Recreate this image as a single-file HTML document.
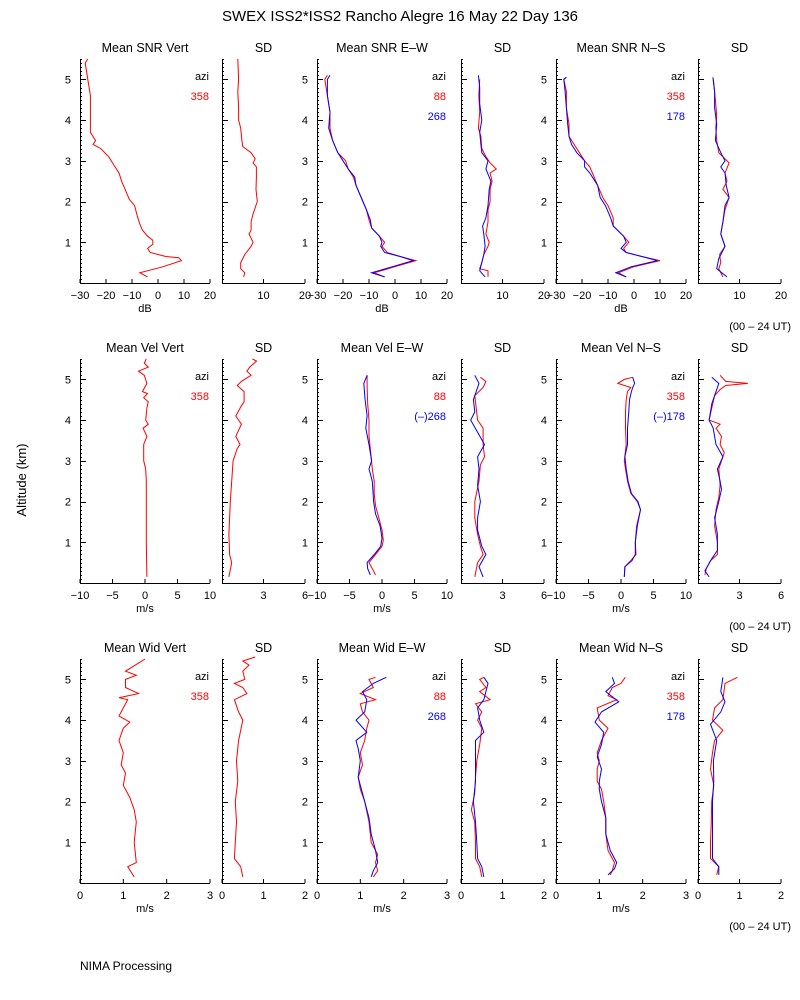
<!DOCTYPE html>
<html><head><meta charset="utf-8">
<style>
body{margin:0;background:#fff;}
svg{display:block;font-family:"Liberation Sans",sans-serif;}
</style></head>
<body>
<svg id="chart" width="800" height="1000" viewBox="0 0 800 1000">
<rect width="800" height="1000" fill="#fff"/>
<text x="400" y="21" text-anchor="middle" font-size="15">SWEX ISS2*ISS2 Rancho Alegre  16 May 22 Day 136</text>
<text x="26" y="480" text-anchor="middle" font-size="13" transform="rotate(-90 26 480)">Altitude (km)</text>
<text x="80" y="970" font-size="12">NIMA Processing</text>
<text x="791" y="330" text-anchor="end" font-size="11">(00 – 24 UT)</text>
<text x="791" y="630" text-anchor="end" font-size="11">(00 – 24 UT)</text>
<text x="791" y="930" text-anchor="end" font-size="11">(00 – 24 UT)</text>
<g id="plots"></g>
</svg>
<script>
// ---- Row 1: SNR ----
const snrVertAlt = [0.15,0.25,0.4,0.55,0.62,0.65,0.75,0.85,0.95,1.05,1.15,1.3,1.45,1.65,1.9,2.05,2.2,2.5,2.7,2.9,3.1,3.3,3.4,3.5,3.7,4.0,4.3,4.6,5.0,5.4,5.5];
const snrVert = [-4,-7,2,9,8,3,-3,-4,-2,-2,-4,-6,-7,-8,-9,-11,-12,-14,-15,-17,-19,-22,-25,-24,-26,-26,-26,-26,-27,-28,-27];
const snrVertSdAlt = [0.15,0.25,0.35,0.5,0.7,0.9,1.0,1.1,1.2,1.3,1.5,1.7,2.0,2.3,2.6,2.85,2.95,3.05,3.2,3.35,3.5,3.8,4.0,4.3,4.7,5.0,5.5];
const snrVertSd = [5.2,5.5,4.5,4.5,5.5,7,7.5,7,6.5,7,7,7.5,8.5,8.2,8.3,8.3,7.5,8,7,5,4.8,4.5,4,4,3.8,4,3.8];
const snrEwAlt = [0.15,0.25,0.4,0.55,0.65,0.75,0.9,1.0,1.15,1.35,1.55,1.8,2.1,2.4,2.6,2.8,3.0,3.2,3.5,3.8,4.2,4.6,5.0,5.1];
const snrEwRed = [-4,-8,0,8,2,-3,-5,-4,-6,-9,-10,-11,-13,-15,-16,-18,-19,-22,-24,-25,-25,-26,-27,-26];
const snrEwBlue = [-4,-9,-1,7,2,-4,-5.5,-5,-6,-9,-9.5,-11,-13,-15,-15.5,-18,-20,-22,-24,-25.5,-25,-26,-26,-25];
const snrEwSdRedAlt = [0.15,0.3,0.35,0.5,0.7,0.9,1.0,1.2,1.5,1.8,2.0,2.3,2.5,2.7,2.8,2.95,3.1,3.3,3.6,3.8,4.2,4.6,5.0];
const snrEwSdRed = [6.5,6.5,4.5,5,5.5,6.5,6.8,6,6.5,6.5,7,7,7.5,7,8.5,7,6,5,4.8,4.2,4.5,4.3,4.5];
const snrEwSdBlueAlt = [0.15,0.3,0.5,0.7,0.9,1.2,1.4,1.6,1.9,2.3,2.5,2.8,3.0,3.2,3.4,3.7,4.0,4.4,4.8,5.1];
const snrEwSdBlue = [5.8,4.5,5,5.5,5.8,5.5,5.2,6,6.5,6.8,7.2,6,6.5,5,4.8,4.5,5,4.5,4.5,4.2];
const snrNsAlt = [0.15,0.25,0.4,0.55,0.65,0.75,0.85,1.0,1.15,1.4,1.6,1.9,2.1,2.4,2.7,2.85,3.0,3.2,3.4,3.6,3.9,4.3,4.7,5.0,5.05];
const snrNsRed = [-3,-6,0,10,3,-3,-4,-2,-4,-8,-8,-10,-12,-14,-16,-17,-19,-21,-23,-25,-25,-26,-26,-27,-26];
const snrNsBlue = [-3,-7,-1,9,3,-3,-5,-3,-4,-8,-9,-11,-13,-14,-17,-19,-19,-22,-24,-25,-25.5,-26,-26.5,-27,-26];
const snrNsSdRedAlt = [0.15,0.35,0.5,0.7,0.9,1.2,1.5,1.8,2.1,2.3,2.5,2.7,2.95,3.2,3.5,3.8,4.1,4.5,5.0];
const snrNsSdRed = [6,5,5.5,5.2,6.5,5.5,6,6.5,7.5,6,7,6.5,7.5,5,4.5,4.3,4.5,4.2,3.7];
const snrNsSdBlueAlt = [0.15,0.35,0.6,0.9,1.2,1.5,1.9,2.1,2.4,2.7,2.85,3.0,3.2,3.5,3.9,4.3,4.7,5.05];
const snrNsSdBlue = [7,4.5,5,6.5,5.5,6,6.5,7.5,6.8,6.5,5.5,6.5,5.5,4.2,4.5,4,4,3.6];
// ---- Row 2: Velocity ----
const velVertAlt = [0.15,1.0,1.5,2.5,2.8,3.0,3.4,3.6,3.8,3.9,4.0,4.3,4.45,4.55,4.65,4.7,4.9,5.1,5.2,5.3,5.4,5.5];
const velVert = [0.3,0.2,0.2,0.2,0.1,-0.2,-0.2,0.3,-0.3,0.5,0.1,0.3,0.5,-0.2,0.4,-0.4,0.3,-0.1,-1.0,0.5,-0.1,0.2];
const velVertSdAlt = [0.15,0.5,0.7,1.2,2.0,3.0,3.3,3.4,3.6,3.9,4.1,4.35,4.45,4.7,4.85,4.95,5.1,5.2,5.3,5.45,5.5];
const velVertSd = [0.5,0.7,0.55,0.5,0.6,0.8,1.1,1.3,1.0,1.4,1.0,1.4,1.6,1.6,1.1,1.4,2.1,1.8,2.0,2.5,2.2];
const velEwRedAlt = [0.2,0.35,0.5,0.7,0.9,1.05,1.3,1.6,1.9,2.2,2.5,2.8,3.3,3.6,4.0,4.4,4.8,5.1];
const velEwRed = [-1.0,-1.5,-2,-1,0,0.2,0,-0.5,-1,-1.2,-1.2,-1.5,-1.8,-2,-2,-2.2,-2.3,-2.3];
const velEwBlueAlt = [0.2,0.35,0.5,0.7,0.9,1.1,1.4,1.7,2.0,2.5,2.8,3.0,3.4,3.8,4.1,4.5,4.9,5.1];
const velEwBlue = [-1.8,-2.2,-2.3,-1.2,-0.2,0,-0.3,-1,-1.3,-1.5,-2,-1.6,-2,-2.5,-2.3,-2.6,-2.8,-2.3];
const velEwSdRedAlt = [0.15,0.5,0.7,0.9,1.2,1.6,2.0,2.5,2.9,3.1,3.4,3.8,4.0,4.3,4.6,4.8,4.95,5.05];
const velEwSdRed = [1.0,1.2,1.6,1.4,1.2,1.0,1.0,1.3,1.4,1.7,1.6,1.6,1.2,1.1,1.0,1.6,1.8,1.4];
const velEwSdBlueAlt = [0.15,0.4,0.7,0.9,1.3,1.6,2.0,2.4,2.8,3.1,3.4,3.7,4.0,4.2,4.5,4.7,4.9,5.1];
const velEwSdBlue = [1.6,1.3,1.8,1.5,1.2,1.2,1.4,1.2,1.3,1.2,1.7,1.2,0.7,1.0,0.9,1.1,1.3,1.0];
const velNsRedAlt = [0.15,0.4,0.55,0.7,1.0,1.4,1.8,2.0,2.2,2.5,2.8,3.0,3.4,3.8,4.2,4.5,4.7,4.8,4.9,5.0,5.05];
const velNsRed = [0.5,0.6,1.5,2.3,2.2,2.4,3.0,2.5,1.5,1.0,0.7,0.5,0.8,0.7,0.7,0.8,1.0,1.5,-0.5,0.5,1.8];
const velNsBlueAlt = [0.15,0.4,0.55,0.7,1.0,1.4,1.8,2.0,2.2,2.5,2.8,3.1,3.4,3.8,4.2,4.5,4.7,4.8,4.9,5.05];
const velNsBlue = [0.5,0.6,1.7,2.2,2.2,2.5,3.0,2.6,1.6,1.1,0.8,0.6,1.0,1.0,1.2,1.3,1.6,1.8,2.1,1.8];
const velNsSdRedAlt = [0.2,0.35,0.55,0.7,1.0,1.4,1.8,2.1,2.4,2.8,3.0,3.2,3.4,3.6,3.8,3.9,4.0,4.3,4.6,4.75,4.85,4.9,4.95,5.1];
const velNsSdRed = [0.5,0.6,0.9,1.4,1.4,1.2,1.3,1.5,1.6,1.5,1.7,1.9,1.6,1.7,1.3,1.6,0.8,1.0,1.2,1.6,2.0,3.6,2.0,1.6];
const velNsSdBlueAlt = [0.15,0.3,0.6,0.8,1.2,1.6,2.0,2.3,2.5,2.8,3.1,3.4,3.8,4.0,4.4,4.7,4.9,5.05];
const velNsSdBlue = [0.8,0.5,1.0,1.4,1.4,1.2,1.5,1.7,1.6,1.4,1.8,1.3,1.1,0.8,1.0,1.3,1.5,1.0];
// ---- Row 3: Width ----
const widVertAlt = [0.15,0.4,0.5,1.0,1.5,1.8,2.1,2.4,2.7,2.9,3.2,3.5,3.8,3.95,4.1,4.3,4.5,4.55,4.65,4.8,5.0,5.1,5.2,5.4,5.5];
const widVert = [1.25,1.1,1.3,1.25,1.3,1.25,1.15,1.0,1.05,0.95,1.0,0.9,1.0,1.15,0.9,1.0,1.1,0.9,1.35,1.05,1.05,1.3,1.05,1.35,1.5];
const widVertSdAlt = [0.15,0.4,0.6,1.0,1.5,2.0,2.5,3.0,3.5,4.0,4.2,4.5,4.65,4.8,4.9,5.0,5.2,5.35,5.45,5.55];
const widVertSd = [0.5,0.45,0.3,0.32,0.35,0.32,0.38,0.35,0.4,0.5,0.4,0.3,0.6,0.5,0.3,0.55,0.5,0.65,0.5,0.8];
const widEwRedAlt = [0.15,0.3,0.5,0.7,1.0,1.5,2.0,2.3,2.6,2.9,3.2,3.5,3.8,4.0,4.2,4.4,4.5,4.65,4.8,5.0,5.05];
const widEwRed = [1.3,1.4,1.35,1.4,1.25,1.2,1.1,1.0,0.95,1.05,1.0,1.1,1.15,1.2,1.05,1.0,1.35,1.0,1.3,1.2,1.35];
const widEwBlueAlt = [0.15,0.3,0.5,0.8,1.2,1.6,2.0,2.4,2.6,3.0,3.3,3.5,3.7,4.0,4.2,4.5,4.7,4.9,5.05];
const widEwBlue = [1.25,1.3,1.4,1.35,1.25,1.2,1.1,1.0,0.95,1.0,0.95,0.9,1.15,0.9,1.1,1.15,1.05,1.3,1.6];
const widEwSdRedAlt = [0.15,0.4,0.6,1.0,1.5,1.8,2.2,2.6,3.0,3.4,3.8,4.0,4.2,4.4,4.5,4.7,4.8,5.0,5.05];
const widEwSdRed = [0.5,0.45,0.35,0.35,0.33,0.25,0.33,0.35,0.38,0.45,0.5,0.4,0.5,0.35,0.7,0.45,0.6,0.45,0.55];
const widEwSdBlueAlt = [0.15,0.4,0.6,1.0,1.5,2.0,2.5,3.0,3.5,3.7,4.0,4.3,4.5,4.7,4.9,5.05];
const widEwSdBlue = [0.55,0.5,0.4,0.38,0.35,0.3,0.35,0.35,0.35,0.55,0.45,0.4,0.55,0.6,0.65,0.55];
const widNsRedAlt = [0.2,0.3,0.5,0.8,1.2,1.6,2.0,2.3,2.5,2.8,3.0,3.2,3.5,3.8,4.0,4.3,4.5,4.6,4.8,4.9,5.05];
const widNsRed = [1.25,1.3,1.35,1.2,1.15,1.15,1.1,1.05,0.95,0.95,1.0,0.95,1.05,1.2,1.0,0.95,1.4,1.2,1.3,1.5,1.6];
const widNsBlueAlt = [0.2,0.35,0.5,0.8,1.2,1.6,2.0,2.3,2.5,2.8,3.1,3.4,3.7,3.95,4.2,4.45,4.7,4.9,5.05];
const widNsBlue = [1.2,1.35,1.4,1.25,1.15,1.15,1.05,1.0,1.0,1.05,0.95,1.05,1.1,0.9,1.05,1.45,1.15,1.35,1.3];
const widNsSdRedAlt = [0.2,0.4,0.6,1.0,1.5,2.0,2.4,2.8,3.2,3.5,3.75,4.0,4.3,4.5,4.9,5.05];
const widNsSdRed = [0.45,0.5,0.3,0.3,0.32,0.33,0.38,0.3,0.35,0.4,0.6,0.35,0.4,0.6,0.65,0.95];
const widNsSdBlueAlt = [0.2,0.4,0.6,1.0,1.5,2.0,2.5,3.0,3.5,3.9,4.2,4.45,4.7,5.05];
const widNsSdBlue = [0.5,0.5,0.35,0.35,0.35,0.35,0.38,0.37,0.45,0.3,0.55,0.65,0.55,0.6];

const meanTicks1 = [-30,-20,-10,0,10,20];
const sdTicks1 = [10,20];
const meanTicks2 = [-10,-5,0,5,10];
const sdTicks2 = [3,6];
const meanTicks3 = [0,1,2,3];
const sdTicks3 = [0,1,2];
const altTicks = [1,2,3,4,5];

const NS='http://www.w3.org/2000/svg';
const root=document.getElementById('plots');
function mk(tag,attrs,parent,text){const e=document.createElementNS(NS,tag);for(const k in attrs)e.setAttribute(k,attrs[k]);if(text!==undefined)e.textContent=text;parent.appendChild(e);return e;}

function panel(o){
  const g=mk('g',{},root);
  
  
  const top=o.bottom-224, W=o.w;
  const xs=v=>o.left+(v-o.xmin)/(o.xmax-o.xmin)*W;
  const ys=a=>o.bottom-a*224/5.5;
  const t=mk('text',{x:o.left+W/2,y:top-7,'text-anchor':'middle','font-size':12.5},g,o.title);
  
  
  const ax=mk('path',{d:`M${o.left+.5},${top}V${o.bottom+.5}H${o.left+W}`,stroke:'#000',fill:'none','stroke-width':1},g);
  
  
  let d='';
  for(let a=0.1;a<5.5;a+=0.1){const y=Math.round(ys(a))+.5;const maj=Math.abs(a-Math.round(a))<0.01;d+=`M${o.left},${y}h${maj?6:2}`;}
  mk('path',{d,stroke:'#000','stroke-width':1},g);
  if(o.yLabels){
    altTicks.forEach(a=>{const l=mk('text',{x:o.left-9,y:ys(a)+4,'text-anchor':'end','font-size':11},g,String(a));
      
      });
  }
  o.ticks.forEach(v=>{const x=xs(v);
    mk('path',{d:`M${x},${o.bottom}v-4`,stroke:'#000'},g);
    const l=mk('text',{x:x,y:o.bottom+16,'text-anchor':'middle','font-size':11},g,String(v).replace('-','−'));
    
    });
  if(o.unit){const u=mk('text',{x:o.left+W/2,y:o.bottom+29,'text-anchor':'middle','font-size':11},g,o.unit);
    
    }
  o.series.forEach(s=>{
    const pts=s.alt.map((a,i)=>xs(s.val[i]).toFixed(1)+','+ys(a).toFixed(1)).join(' ');
    const p=mk('polyline',{points:pts,fill:'none',stroke:s.color,'stroke-width':1},g);
    
    
  });
  if(o.legend){
    const items=[['azi','#000']].concat(o.legend);
    items.forEach((it,i)=>{const l=mk('text',{x:o.left+W-1,y:top+21+i*20,'text-anchor':'end','font-size':11,fill:it[1]},g,it[0]);
      
      });
  }
}
const R='#ff0000',B='#0000ff';
const lefts=[80,222,317,461,556,698];
const rows=[283,583,883];
const meanW=130, sdW=83;
// row 1
panel({name:'snr-vert-panel',yLabels:true,left:lefts[0],bottom:rows[0],w:meanW,xmin:-30,xmax:20,ticks:meanTicks1,unit:'dB',title:'Mean SNR Vert',legend:[['358',R]],series:[{name:'snr-vert-line',alt:snrVertAlt,val:snrVert,color:R}]});
panel({name:'snr-vert-sd-panel',left:lefts[1],bottom:rows[0],w:sdW,xmin:0,xmax:20,ticks:sdTicks1,title:'SD',series:[{name:'snr-vert-sd-line',alt:snrVertSdAlt,val:snrVertSd,color:R}]});
panel({name:'snr-ew-panel',yLabels:true,left:lefts[2],bottom:rows[0],w:meanW,xmin:-30,xmax:20,ticks:meanTicks1,unit:'dB',title:'Mean SNR E–W',legend:[['88',R],['268',B]],series:[{name:'snr-ew-88',alt:snrEwAlt,val:snrEwRed,color:R},{name:'snr-ew-268',alt:snrEwAlt,val:snrEwBlue,color:B}]});
panel({name:'snr-ew-sd-panel',left:lefts[3],bottom:rows[0],w:sdW,xmin:0,xmax:20,ticks:sdTicks1,title:'SD',series:[{name:'snr-ew-sd-88',alt:snrEwSdRedAlt,val:snrEwSdRed,color:R},{name:'snr-ew-sd-268',alt:snrEwSdBlueAlt,val:snrEwSdBlue,color:B}]});
panel({name:'snr-ns-panel',yLabels:true,left:lefts[4],bottom:rows[0],w:meanW,xmin:-30,xmax:20,ticks:meanTicks1,unit:'dB',title:'Mean SNR N–S',legend:[['358',R],['178',B]],series:[{name:'snr-ns-358',alt:snrNsAlt,val:snrNsRed,color:R},{name:'snr-ns-178',alt:snrNsAlt,val:snrNsBlue,color:B}]});
panel({name:'snr-ns-sd-panel',left:lefts[5],bottom:rows[0],w:sdW,xmin:0,xmax:20,ticks:sdTicks1,title:'SD',series:[{name:'snr-ns-sd-358',alt:snrNsSdRedAlt,val:snrNsSdRed,color:R},{name:'snr-ns-sd-178',alt:snrNsSdBlueAlt,val:snrNsSdBlue,color:B}]});
// row 2
panel({name:'vel-vert-panel',yLabels:true,left:lefts[0],bottom:rows[1],w:meanW,xmin:-10,xmax:10,ticks:meanTicks2,unit:'m/s',title:'Mean Vel Vert',legend:[['358',R]],series:[{name:'vel-vert-line',alt:velVertAlt,val:velVert,color:R}]});
panel({name:'vel-vert-sd-panel',left:lefts[1],bottom:rows[1],w:sdW,xmin:0,xmax:6,ticks:sdTicks2,title:'SD',series:[{name:'vel-vert-sd-line',alt:velVertSdAlt,val:velVertSd,color:R}]});
panel({name:'vel-ew-panel',yLabels:true,left:lefts[2],bottom:rows[1],w:meanW,xmin:-10,xmax:10,ticks:meanTicks2,unit:'m/s',title:'Mean Vel E–W',legend:[['88',R],['(–)268',B]],series:[{name:'vel-ew-88',alt:velEwRedAlt,val:velEwRed,color:R},{name:'vel-ew-268',alt:velEwBlueAlt,val:velEwBlue,color:B}]});
panel({name:'vel-ew-sd-panel',left:lefts[3],bottom:rows[1],w:sdW,xmin:0,xmax:6,ticks:sdTicks2,title:'SD',series:[{name:'vel-ew-sd-88',alt:velEwSdRedAlt,val:velEwSdRed,color:R},{name:'vel-ew-sd-268',alt:velEwSdBlueAlt,val:velEwSdBlue,color:B}]});
panel({name:'vel-ns-panel',yLabels:true,left:lefts[4],bottom:rows[1],w:meanW,xmin:-10,xmax:10,ticks:meanTicks2,unit:'m/s',title:'Mean Vel N–S',legend:[['358',R],['(–)178',B]],series:[{name:'vel-ns-358',alt:velNsRedAlt,val:velNsRed,color:R},{name:'vel-ns-178',alt:velNsBlueAlt,val:velNsBlue,color:B}]});
panel({name:'vel-ns-sd-panel',left:lefts[5],bottom:rows[1],w:sdW,xmin:0,xmax:6,ticks:sdTicks2,title:'SD',series:[{name:'vel-ns-sd-358',alt:velNsSdRedAlt,val:velNsSdRed,color:R},{name:'vel-ns-sd-178',alt:velNsSdBlueAlt,val:velNsSdBlue,color:B}]});
// row 3
panel({name:'wid-vert-panel',yLabels:true,left:lefts[0],bottom:rows[2],w:meanW,xmin:0,xmax:3,ticks:meanTicks3,unit:'m/s',title:'Mean Wid Vert',legend:[['358',R]],series:[{name:'wid-vert-line',alt:widVertAlt,val:widVert,color:R}]});
panel({name:'wid-vert-sd-panel',left:lefts[1],bottom:rows[2],w:sdW,xmin:0,xmax:2,ticks:sdTicks3,title:'SD',series:[{name:'wid-vert-sd-line',alt:widVertSdAlt,val:widVertSd,color:R}]});
panel({name:'wid-ew-panel',yLabels:true,left:lefts[2],bottom:rows[2],w:meanW,xmin:0,xmax:3,ticks:meanTicks3,unit:'m/s',title:'Mean Wid E–W',legend:[['88',R],['268',B]],series:[{name:'wid-ew-88',alt:widEwRedAlt,val:widEwRed,color:R},{name:'wid-ew-268',alt:widEwBlueAlt,val:widEwBlue,color:B}]});
panel({name:'wid-ew-sd-panel',left:lefts[3],bottom:rows[2],w:sdW,xmin:0,xmax:2,ticks:sdTicks3,title:'SD',series:[{name:'wid-ew-sd-88',alt:widEwSdRedAlt,val:widEwSdRed,color:R},{name:'wid-ew-sd-268',alt:widEwSdBlueAlt,val:widEwSdBlue,color:B}]});
panel({name:'wid-ns-panel',yLabels:true,left:lefts[4],bottom:rows[2],w:meanW,xmin:0,xmax:3,ticks:meanTicks3,unit:'m/s',title:'Mean Wid N–S',legend:[['358',R],['178',B]],series:[{name:'wid-ns-358',alt:widNsRedAlt,val:widNsRed,color:R},{name:'wid-ns-178',alt:widNsBlueAlt,val:widNsBlue,color:B}]});
panel({name:'wid-ns-sd-panel',left:lefts[5],bottom:rows[2],w:sdW,xmin:0,xmax:2,ticks:sdTicks3,title:'SD',series:[{name:'wid-ns-sd-358',alt:widNsSdRedAlt,val:widNsSdRed,color:R},{name:'wid-ns-sd-178',alt:widNsSdBlueAlt,val:widNsSdBlue,color:B}]});
</script>
</body></html>
